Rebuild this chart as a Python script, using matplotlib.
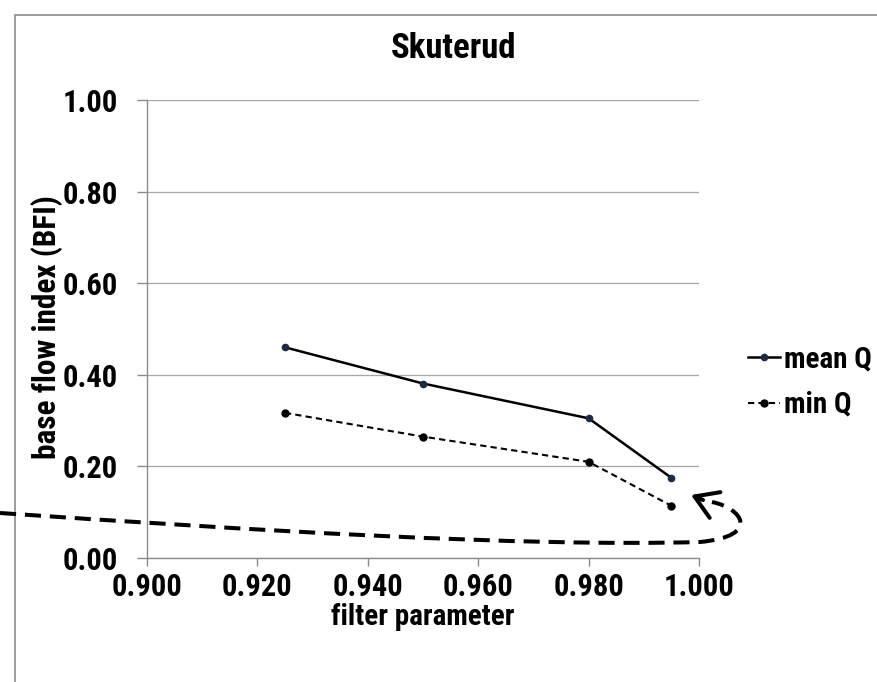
import numpy as np
import matplotlib.pyplot as plt
from matplotlib import font_manager
from matplotlib.path import Path
from matplotlib.patches import PathPatch, Rectangle, FancyArrowPatch

# narrow sans if one is there, else plain Liberation Sans
have = {f.name for f in font_manager.fontManager.ttflist}
narrow = [n for n in ['Liberation Sans Narrow', 'DejaVu Sans Condensed',
                      'Roboto Condensed', 'Open Sans Condensed'] if n in have]
plt.rcParams['font.family'] = narrow[:1] + ['Liberation Sans', 'DejaVu Sans']
plt.rcParams['font.weight'] = 'bold'

filter_param = [0.925, 0.950, 0.980, 0.995]
mean_q = [0.460, 0.381, 0.305, 0.175]
min_q = [0.317, 0.265, 0.210, 0.114]

x_ticks = [0.900, 0.920, 0.940, 0.960, 0.980, 1.000]
y_ticks = [0.00, 0.20, 0.40, 0.60, 0.80, 1.00]

# hand drawn arrow over the picture, in figure pixels (y down)
annot_curve = [(0, 513), (250, 530), (520, 547), (700, 542),
               (762, 536), (742, 508), (712, 502)]

W, H = 878, 682
fig = plt.figure(figsize=(W / 100, H / 100), dpi=100)
ax = fig.add_axes([147 / W, 1 - 558 / H, 552 / W, 458 / H])

grey = '#8c8c8c'
ax.plot(filter_param, mean_q, color='black', lw=1.8, marker='o',
        markersize=4.5, markerfacecolor='#1c2a44', markeredgecolor='#1c2a44',
        label='mean Q')
ax.plot(filter_param, min_q, color='black', lw=1.5, ls=(0, (3, 2)),
        marker='o', markersize=5, markerfacecolor='black',
        markeredgecolor='black', label='min Q')

ax.set_xlim(0.9, 1.0)
ax.set_ylim(0, 1.0)
ax.set_xticks(x_ticks)
ax.set_xticklabels(['%.3f' % v for v in x_ticks])
ax.set_yticks(y_ticks)
ax.set_yticklabels(['%.2f' % v for v in y_ticks])
ax.tick_params(axis='both', labelsize=22, colors=grey, labelcolor='black',
               direction='out', width=1)
ax.tick_params(axis='y', length=7, pad=14)
ax.tick_params(axis='x', length=6, pad=4)
ax.yaxis.grid(True, color='#a6a6a6', lw=0.9)
ax.set_axisbelow(True)
for s in ['top', 'right']:
    ax.spines[s].set_visible(False)
for s in ['left', 'bottom']:
    ax.spines[s].set_color(grey)
    ax.spines[s].set_linewidth(1)

ax.set_xlabel('filter parameter', fontsize=21, fontweight='bold', labelpad=1)
fig.text(47 / W, 1 - 327 / H, 'base flow index (BFI)', rotation=90,
         ha='center', va='center', fontsize=22.5, fontweight='bold')
fig.text(454 / W, 1 - 58 / H, 'Skuterud', ha='center', va='baseline',
         fontsize=25, fontweight='bold')

fig.legend(loc='center left', bbox_to_anchor=(748 / W, 1 - 382 / H),
           frameon=False, fontsize=21, handlelength=1.1, handletextpad=0.12,
           labelspacing=0.6, numpoints=1, borderaxespad=0, borderpad=0)

# chart area border (clipped on the right and bottom)
fig.patches.append(Rectangle((15 / W, -0.1), 1.2, 1 - 15 / H + 0.1,
                             transform=fig.transFigure, fill=False,
                             edgecolor=grey, lw=1.2))

pts = [(x / W, 1 - y / H) for x, y in annot_curve]
codes = [Path.MOVETO] + [Path.CURVE4] * 6
curve = PathPatch(Path(pts, codes), transform=fig.transFigure, fill=False,
                  edgecolor='black', lw=2.9, ls=(0, (4, 2.2)))
fig.patches.append(curve)
fig.patches.append(FancyArrowPatch(
    (703 / W, 1 - 500 / H), (691 / W, 1 - 495 / H),
    transform=fig.transFigure, arrowstyle='->,head_length=1.6,head_width=1.0',
    mutation_scale=10, lw=2.9, color='black', shrinkA=0, shrinkB=0))

fig.savefig('out.png', dpi=100)
